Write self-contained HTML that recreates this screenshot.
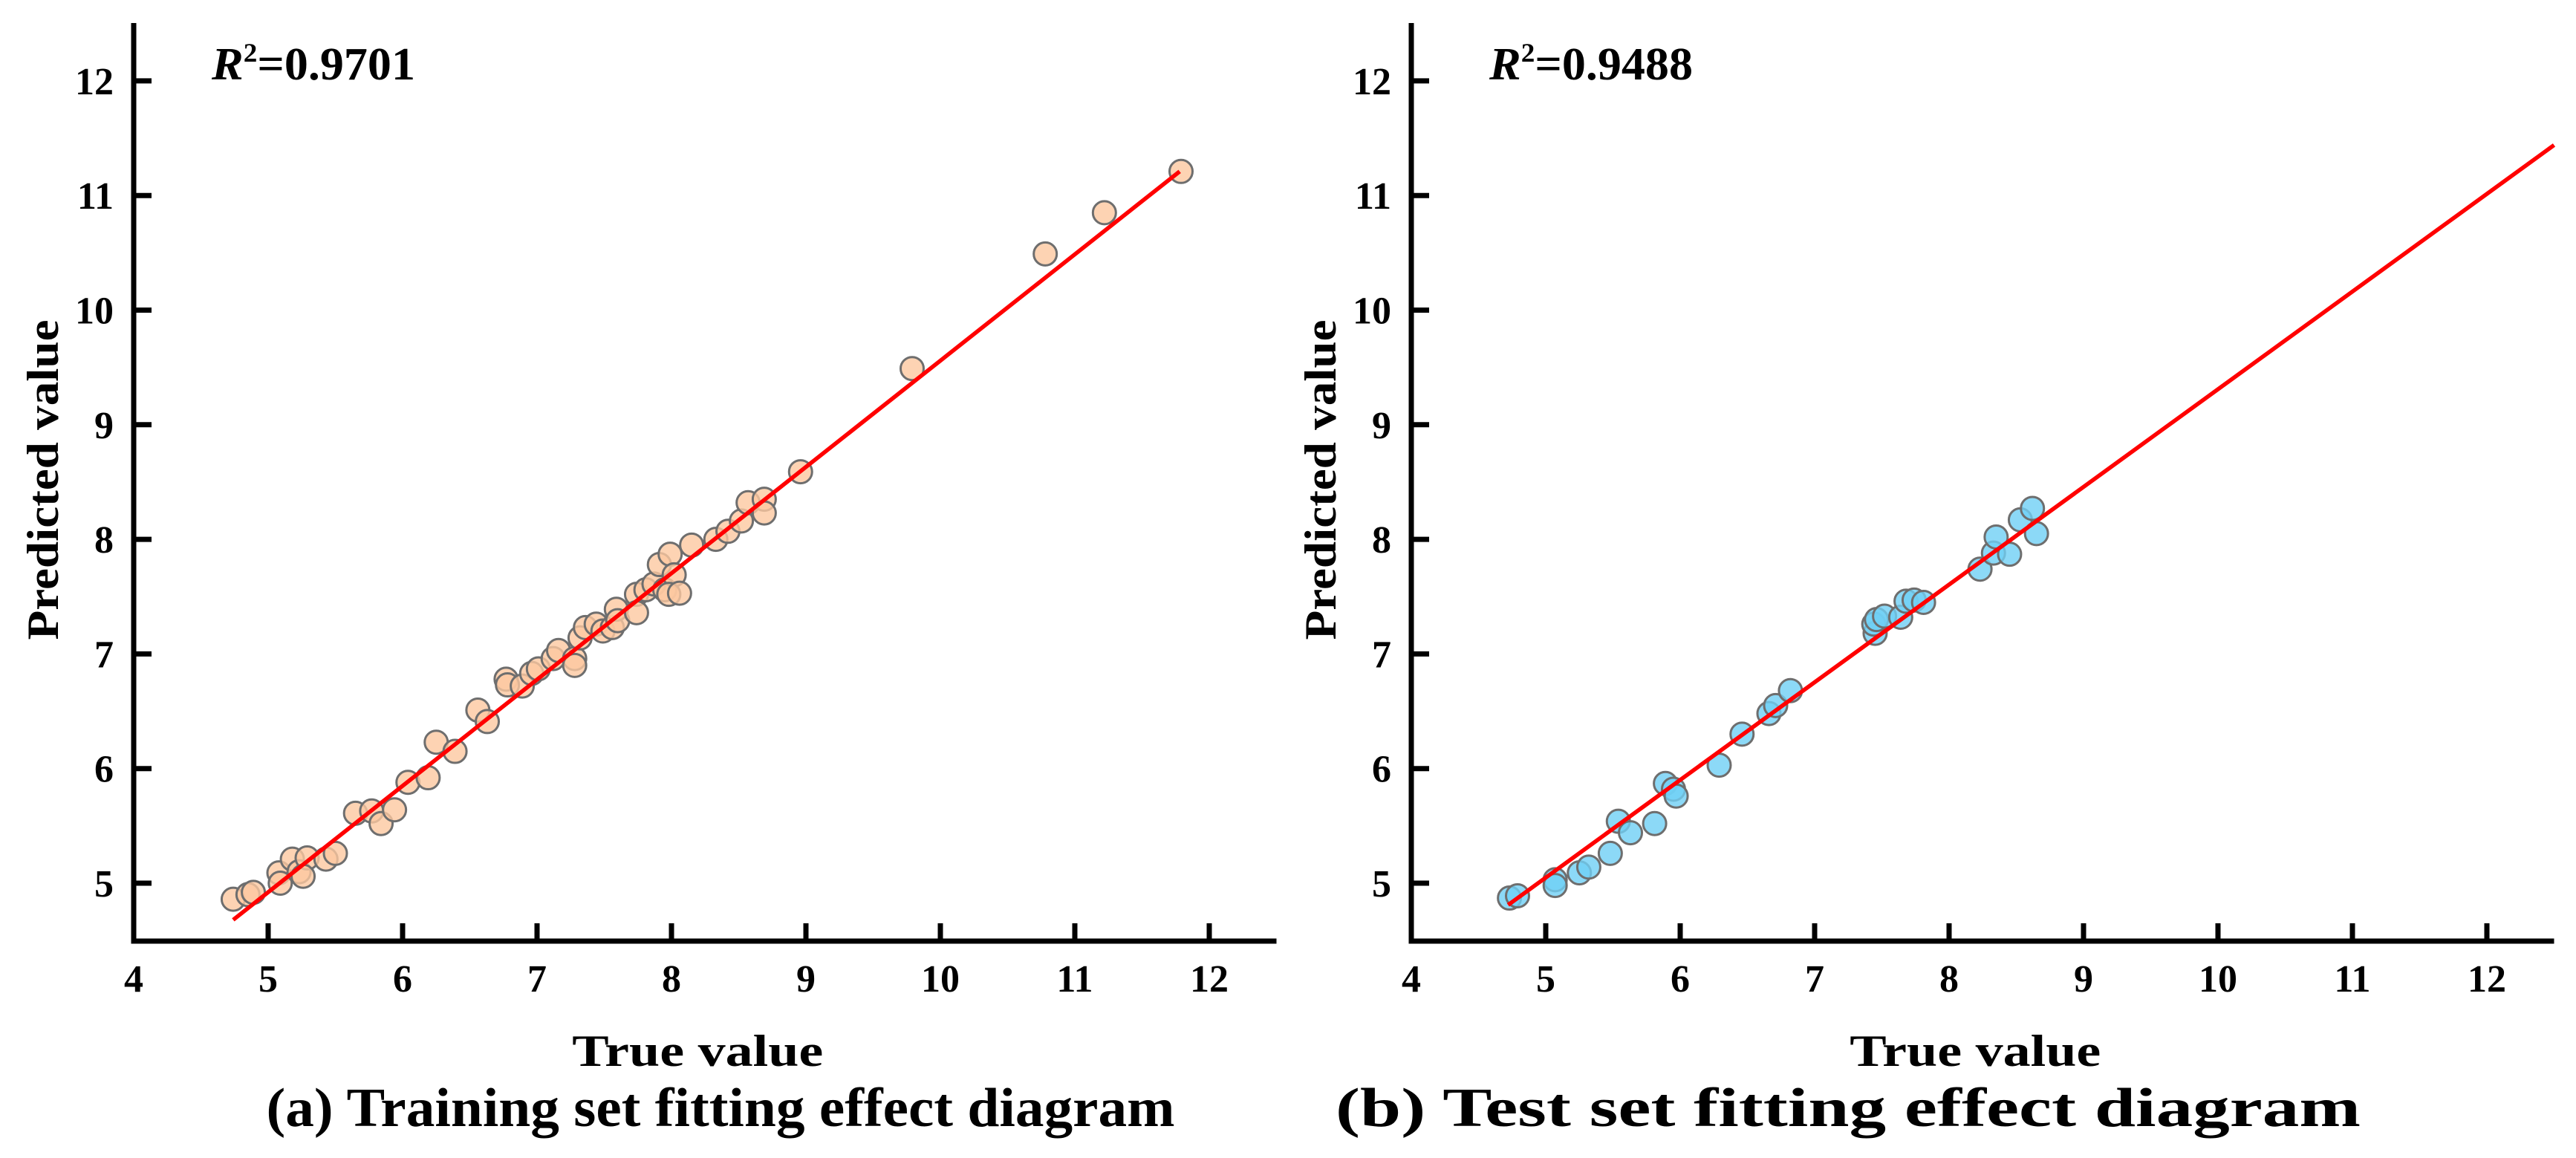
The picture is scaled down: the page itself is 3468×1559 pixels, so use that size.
<!DOCTYPE html>
<html><head><meta charset="utf-8"><style>
html,body{margin:0;padding:0;background:#fff;}
svg{display:block;}
text{font-family:"Liberation Serif","Times New Roman",serif;font-weight:bold;fill:#000;}
</style></head>
<body>
<svg id="fig" width="3468" height="1559" viewBox="0 0 3468 1559" xmlns="http://www.w3.org/2000/svg"></svg>
<script>
const tickValues = [4,5,6,7,8,9,10,11,12];
const yTickValues = [5,6,7,8,9,10,11,12];
const trainTrue = [4.74,4.85,4.89,5.08,5.09,5.18,5.23,5.29,5.26,5.43,5.50,5.65,5.77,5.84,5.94,6.04,6.19,6.25,6.39,6.56,6.63,6.77,6.78,6.89,6.96,7.01,7.12,7.16,7.28,7.28,7.32,7.36,7.44,7.49,7.56,7.59,7.60,7.74,7.74,7.81,7.87,7.91,7.95,7.99,8.02,7.98,8.06,8.15,8.33,8.42,8.52,8.57,8.69,8.69,8.96,9.79,10.78,11.22,11.79];
const trainPred = [4.86,4.90,4.92,5.09,5.00,5.21,5.10,5.22,5.06,5.21,5.26,5.61,5.63,5.52,5.64,5.88,5.92,6.23,6.15,6.51,6.41,6.78,6.73,6.72,6.83,6.87,6.96,7.03,6.96,6.90,7.14,7.23,7.26,7.20,7.23,7.39,7.29,7.52,7.36,7.56,7.61,7.78,7.56,7.87,7.69,7.52,7.53,7.95,8.00,8.07,8.16,8.32,8.35,8.23,8.59,9.49,10.49,10.85,11.21];
const testTrue = [4.73,4.79,5.07,5.07,5.25,5.32,5.48,5.54,5.63,5.81,5.89,5.95,5.97,6.29,6.46,6.66,6.71,6.82,7.45,7.44,7.46,7.52,7.64,7.68,7.74,7.81,8.23,8.33,8.35,8.45,8.53,8.62,8.65];
const testPred = [4.87,4.89,5.03,4.98,5.09,5.14,5.26,5.54,5.44,5.52,5.87,5.82,5.76,6.03,6.30,6.48,6.55,6.68,7.18,7.26,7.30,7.33,7.32,7.46,7.47,7.45,7.74,7.88,8.02,7.87,8.17,8.27,8.05];
const trainFit = [[4.74,4.68],[11.78,11.21]];
const testFit = [[4.72,4.81],[12.5,11.44]];
const r2Train = "0.9701";
const r2Test = "0.9488";

const NS = "http://www.w3.org/2000/svg";
const svg = document.getElementById('fig');
function el(tag, attrs, parent){const e=document.createElementNS(NS,tag);for(const k in attrs)e.setAttribute(k,attrs[k]);(parent||svg).appendChild(e);return e;}

function panel(ox, name, xs, ys, fit, fill, r2, caption, capW, capX){
  const g = el('g',{});
  
  
  const sx = v => ox + (v-4)*181;
  const sy = v => 1189 - (v-5)*154.3;
  const axisB = 1267, axisT = 31, axisR = ox + 8.5*181;
  const ax = el('path',{d:`M${ox},${axisT} L${ox},${axisB} L${axisR},${axisB}`,fill:'none',stroke:'#000','stroke-width':7},g);
  
  
  tickValues.forEach(v=>{
    if(v>4){const t=el('line',{x1:sx(v),x2:sx(v),y1:axisB,y2:axisB-24,stroke:'#000','stroke-width':7},g);
      
      }
    const l=el('text',{x:sx(v),y:1335,'font-size':52,'text-anchor':'middle'},g); l.textContent=v;
    
    
  });
  yTickValues.forEach(v=>{
    const t=el('line',{x1:ox,x2:ox+24,y1:sy(v),y2:sy(v),stroke:'#000','stroke-width':7},g);
    
    
    const l=el('text',{x:ox-27,y:sy(v)+18,'font-size':52,'text-anchor':'end'},g); l.textContent=v;
    
    
  });
  xs.forEach((x,i)=>{
    const c=el('circle',{cx:sx(x),cy:sy(ys[i]),r:15.5,fill:fill,'fill-opacity':0.8,stroke:'#6e6e6e','stroke-width':3},g);
    
    
  });
  const fl=el('line',{x1:sx(fit[0][0]),y1:sy(fit[0][1]),x2:sx(fit[1][0]),y2:sy(fit[1][1]),stroke:'#ff0000','stroke-width':5.5},g);
  
  
  const rt=el('text',{x:ox+105,y:107,'font-size':62,textLength:274,lengthAdjust:'spacingAndGlyphs'},g);
  
  
  const ri=el('tspan',{'font-style':'italic'},rt); ri.textContent='R';
  const rs=el('tspan',{'font-size':36,dy:-24},rt); rs.textContent='2';
  const rr=el('tspan',{dy:24},rt); rr.textContent='='+r2;
  const cx=(ox+axisR)/2;
  const xt=el('text',{x:cx-10,y:1435,'font-size':60,'text-anchor':'middle',textLength:338,lengthAdjust:'spacingAndGlyphs'},g);
  xt.textContent='True value';
  
  
  const yt=el('text',{x:0,y:0,'font-size':60,'text-anchor':'middle',textLength:431,lengthAdjust:'spacingAndGlyphs',transform:`translate(${ox-102},646) rotate(-90)`},g);
  yt.textContent='Predicted value';
  
  
  const ct=el('text',{x:capX,y:1516,'font-size':74,'text-anchor':'middle',textLength:capW,lengthAdjust:'spacingAndGlyphs'},g);
  ct.textContent=caption;
  
  
}
panel(180,'training',trainTrue,trainPred,trainFit,'#fdc8a0',r2Train,"(a) Training set fitting effect diagram",1223,970);
panel(1900,'test',testTrue,testPred,testFit,'#6fd0f5',r2Test,"(b) Test set fitting effect diagram",1380,2488);
</script>
</body></html>
